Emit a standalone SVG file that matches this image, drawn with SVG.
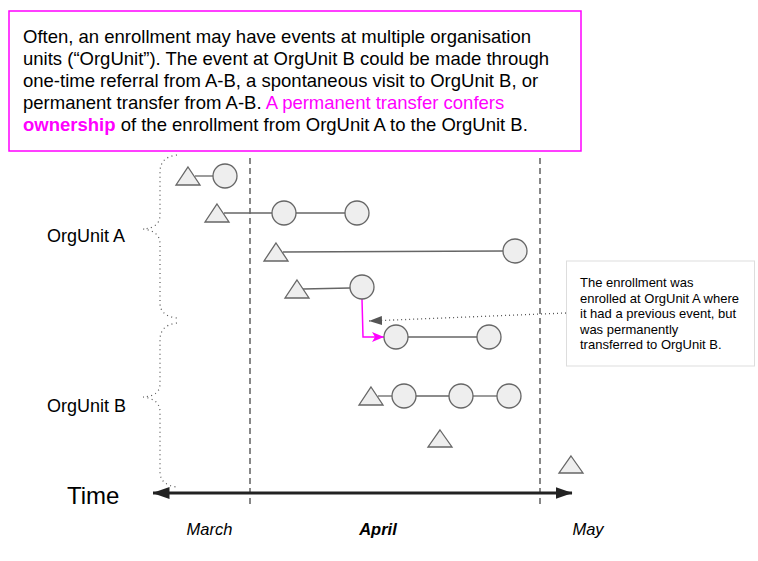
<svg xmlns="http://www.w3.org/2000/svg" width="758" height="561" viewBox="0 0 758 561">
<style>
text{font-family:"Liberation Sans",Arial,sans-serif;fill:#000}
.ev{fill:#eeeeee;stroke:#666;stroke-width:1.3}
.ln{stroke:#666;stroke-width:1.3;fill:none}
.brace{fill:none;stroke:#555;stroke-width:1.2;stroke-dasharray:1 3.5}
.guide{stroke:#555;stroke-width:1.4;stroke-dasharray:6 4;fill:none}
.mon{font-size:16.5px;font-style:italic}
</style>
<defs>
<marker id="axh" markerWidth="17" markerHeight="12" refX="16.5" refY="6" orient="auto-start-reverse" markerUnits="userSpaceOnUse">
<path d="M0,0 L17,6 L0,12 z" fill="#222"/>
</marker>
<marker id="dh" markerWidth="13" markerHeight="9" refX="13" refY="4.5" orient="auto" markerUnits="userSpaceOnUse">
<path d="M0,0 L13,4.5 L0,9 z" fill="#555"/>
</marker>
<marker id="mh" markerWidth="12" markerHeight="10" refX="12" refY="5" orient="auto" markerUnits="userSpaceOnUse">
<path d="M0,0 L12,5 L0,10 L3,5 z" fill="#ff00ff"/>
</marker>
</defs>

<g id="intro">
<rect x="9" y="11" width="572" height="140" fill="#fff" stroke="#ff00ff" stroke-width="1.5"/>
<text x="23" font-size="18.5">
<tspan x="23" y="43">Often, an enrollment may have events at multiple organisation</tspan>
<tspan x="23" y="65">units (“OrgUnit”). The event at OrgUnit B could be made through</tspan>
<tspan x="23" y="87">one-time referral from A-B, a spontaneous visit to OrgUnit B, or</tspan>
<tspan x="23" y="109">permanent transfer from A-B. <tspan style="fill:#ff00ff">A permanent transfer confers</tspan></tspan>
<tspan x="23" y="131"><tspan style="fill:#ff00ff;font-weight:bold">ownership</tspan> of the enrollment from OrgUnit A to the OrgUnit B.</tspan>
</text>
</g>

<g id="guides">
<line class="guide" x1="250" y1="158" x2="250" y2="505"/>
<line class="guide" x1="540" y1="158" x2="540" y2="505"/>
</g>

<g id="orgunitA">
<path class="brace" d="M177,155 Q160,157 160,172 L160,215 Q160,228 143,229 Q160,231 160,244 L160,303 Q160,316 177,318"/>
<text x="47" y="242" font-size="18">OrgUnit A</text>
</g>
<g id="orgunitB">
<path class="brace" d="M177,323 Q160,325 160,340 L160,384 Q160,396 143,397 Q160,399 160,412 L160,472 Q160,485 177,487"/>
<text x="47" y="412" font-size="18">OrgUnit B</text>
</g>

<g id="connectors">
<line class="ln" x1="195" y1="176" x2="213" y2="176"/>
<line class="ln" x1="224" y1="213" x2="272" y2="213"/>
<line class="ln" x1="296" y1="213" x2="345" y2="213"/>
<line class="ln" x1="283" y1="252" x2="503" y2="251"/>
<line class="ln" x1="303" y1="289" x2="350" y2="288"/>
<line class="ln" x1="408" y1="337" x2="477" y2="337"/>
<line class="ln" x1="378" y1="396" x2="392" y2="396"/>
<line class="ln" x1="416" y1="396" x2="449" y2="396"/>
<line class="ln" x1="473" y1="396" x2="497" y2="396"/>
<polyline points="362,299 363,337 384,337" fill="none" stroke="#ff00ff" stroke-width="1.5" marker-end="url(#mh)"/>
<line x1="566" y1="313" x2="369" y2="321" stroke="#555" stroke-width="1.3" stroke-dasharray="1 3" marker-end="url(#dh)"/>
<line x1="153" y1="493" x2="572" y2="493" stroke="#222" stroke-width="3" marker-start="url(#axh)" marker-end="url(#axh)"/>
</g>

<g id="events">
<polygon class="ev" points="188,167 200,185 176,185"/>
<circle class="ev" cx="225" cy="176" r="12"/>
<polygon class="ev" points="217,204 229,222 205,222"/>
<circle class="ev" cx="284" cy="213" r="12"/>
<circle class="ev" cx="357" cy="213" r="12"/>
<polygon class="ev" points="276,243 288,261 264,261"/>
<circle class="ev" cx="515" cy="251" r="12"/>
<polygon class="ev" points="297,280 309,298 285,298"/>
<circle class="ev" cx="362" cy="287" r="12"/>
<circle class="ev" cx="396" cy="337" r="12"/>
<circle class="ev" cx="489" cy="337" r="12"/>
<polygon class="ev" points="371,387 383,405 359,405"/>
<circle class="ev" cx="404" cy="396" r="12"/>
<circle class="ev" cx="461" cy="396" r="12"/>
<circle class="ev" cx="509" cy="396" r="12"/>
<polygon class="ev" points="440,430 452,447 428,447"/>
<polygon class="ev" points="571,456 583,473 559,473"/>
</g>

<g id="callout">
<rect x="566.5" y="261" width="188" height="105" fill="#fff" stroke="#ddd" stroke-width="1"/>
<text font-size="13">
<tspan x="580" y="287">The enrollment was</tspan>
<tspan x="580" y="302.5">enrolled at OrgUnit A where</tspan>
<tspan x="580" y="318">it had a previous event, but</tspan>
<tspan x="580" y="333.5">was permanently</tspan>
<tspan x="580" y="349">transferred to OrgUnit B.</tspan>
</text>
</g>

<g id="axis">
<text x="67" y="504" font-size="24">Time</text>
<text class="mon" x="209.5" y="535" text-anchor="middle">March</text>
<text class="mon" x="378" y="535" text-anchor="middle" font-weight="bold">April</text>
<text class="mon" x="588" y="535" text-anchor="middle">May</text>
</g>
</svg>
